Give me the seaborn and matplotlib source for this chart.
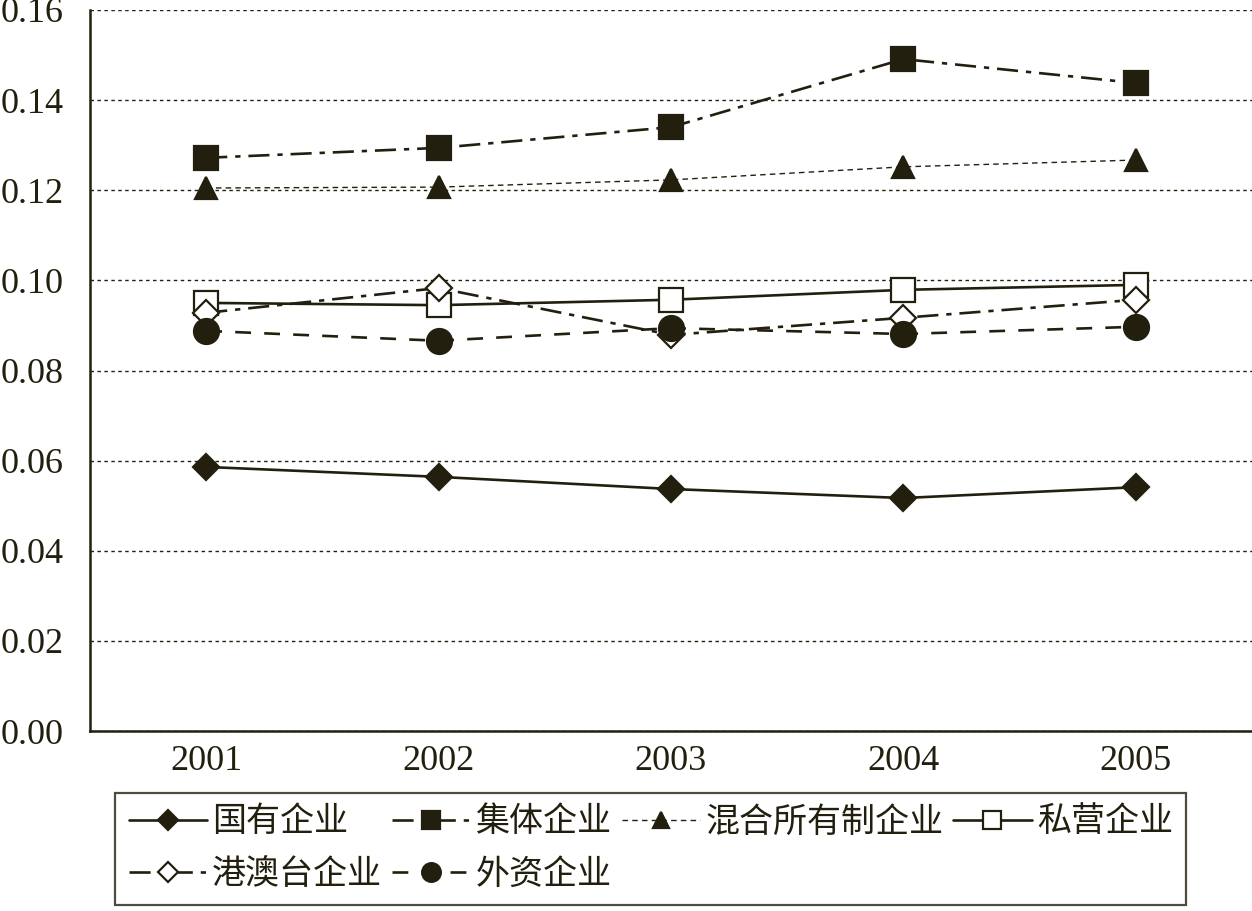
import matplotlib
matplotlib.use("Agg")
import matplotlib.pyplot as plt
import seaborn as sns
import pandas as pd

# Data
years = ["2001", "2002", "2003", "2004", "2005"]
series_names = ["国有企业", "集体企业", "混合所有制企业", "私营企业", "港澳台企业", "外资企业"]
state_owned = [0.0586, 0.0564, 0.0537, 0.0517, 0.0541]
collective = [0.1272, 0.1294, 0.1340, 0.1491, 0.1438]
mixed = [0.1205, 0.1207, 0.1223, 0.1252, 0.1267]
private = [0.0950, 0.0945, 0.0957, 0.0979, 0.0990]
hmt = [0.0928, 0.0983, 0.0879, 0.0917, 0.0957]
foreign = [0.0888, 0.0866, 0.0894, 0.0881, 0.0897]
values = [state_owned, collective, mixed, private, hmt, foreign]

INK = "#231f0f"

sns.set_theme(style="white")
plt.rcParams["font.family"] = ["Liberation Serif", "Noto Sans CJK SC", "DejaVu Sans"]

styles = [
    dict(marker="D", markersize=13, mfc=INK, linestyle="-", lw=1.9),
    dict(marker="s", markersize=17, mfc=INK, linestyle=(0, (8, 3, 2, 3)), lw=1.9),
    dict(marker="^", markersize=16, mfc=INK, linestyle=(0, (4, 3)), lw=1.0),
    dict(marker="s", markersize=17, mfc="white", linestyle="-", lw=1.9),
    dict(marker="D", markersize=13, mfc="white", linestyle=(0, (8, 3, 2, 3)), lw=1.9),
    dict(marker="o", markersize=18, mfc=INK, linestyle=(0, (6, 5)), lw=1.9),
]

fig = plt.figure(figsize=(12.52, 9.11), dpi=100)
ax = fig.add_axes([90 / 1252, 1 - 731 / 911, 1 - 90 / 1252, (731 - 10) / 911])

handles = []
for name, vals, st in zip(series_names, values, styles):
    df = pd.DataFrame({"year": years, "value": vals})
    sns.lineplot(data=df, x="year", y="value", ax=ax, color=INK,
                 marker=st["marker"], markersize=st["markersize"],
                 markerfacecolor=st["mfc"], markeredgecolor=INK, markeredgewidth=1.6,
                 linestyle=st["linestyle"], linewidth=st["lw"], label=name)
    handles.append(ax.lines[-1])

ax.set_xlim(-0.5, 4.5)
ax.set_ylim(0, 0.16)
ax.set_yticks([0.00, 0.02, 0.04, 0.06, 0.08, 0.10, 0.12, 0.14, 0.16])
ax.set_yticklabels([f"{v:.2f}" for v in ax.get_yticks()])
ax.set_xlabel("")
ax.set_ylabel("")
ax.tick_params(axis="both", labelsize=26, colors=INK, length=0)
ax.tick_params(axis="x", pad=10)
ax.tick_params(axis="y", pad=19)
ax.yaxis.grid(True, linestyle=(0, (2.5, 2.5)), color=INK, linewidth=1.0)
ax.xaxis.grid(False)
for side in ["top", "right"]:
    ax.spines[side].set_visible(False)
for side in ["left", "bottom"]:
    ax.spines[side].set_color(INK)
    ax.spines[side].set_linewidth(1.8)
ax.set_axisbelow(True)

# row-major legend order for ncol=4
order = [0, 4, 1, 5, 2, 3]
leg = ax.legend([handles[i] for i in order], [series_names[i] for i in order],
                ncol=4, loc="upper left", bbox_to_anchor=(115 / 1252, 1 - 793 / 911),
                bbox_transform=fig.transFigure, fontsize=24.5, frameon=True,
                fancybox=False, edgecolor=INK, handlelength=2.3, handletextpad=0.15,
                columnspacing=0.3, labelspacing=0.6, borderpad=0.4, borderaxespad=0,
                markerscale=0.75)
leg.get_frame().set_linewidth(1.6)
for t in leg.get_texts():
    t.set_color(INK)

fig.savefig("out.png", dpi=100)
